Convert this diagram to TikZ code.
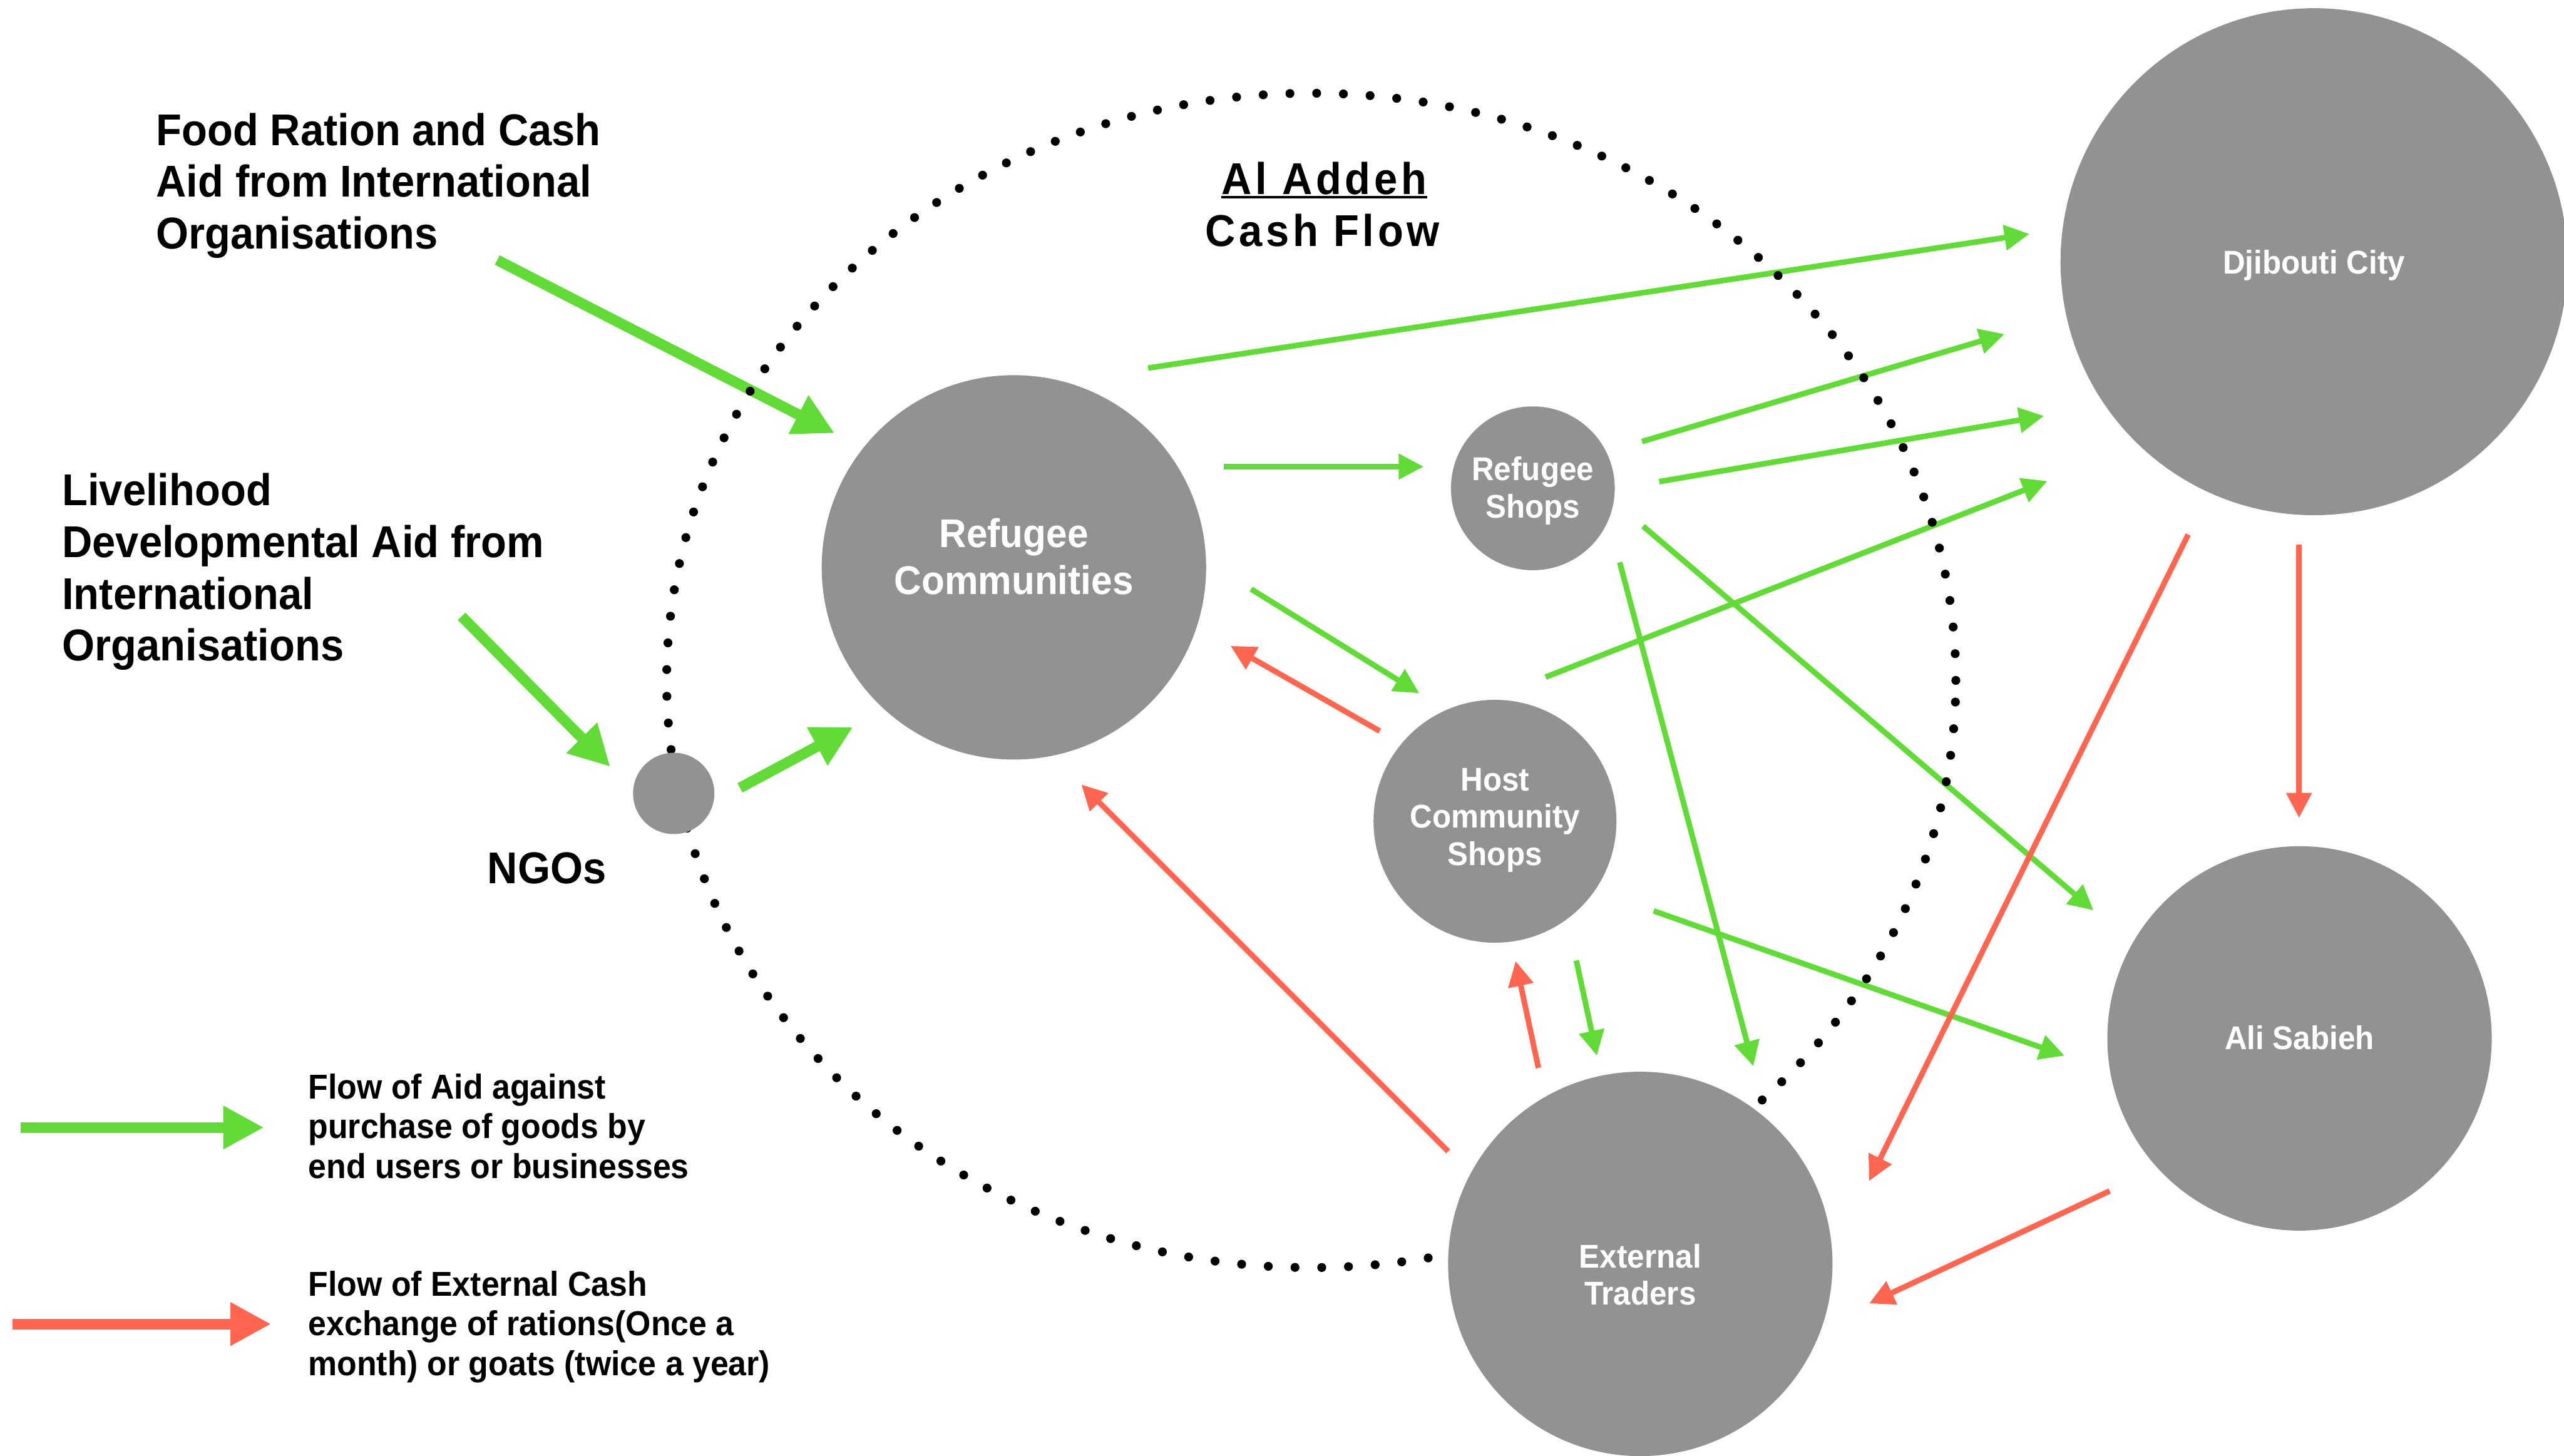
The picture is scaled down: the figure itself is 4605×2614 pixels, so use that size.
\documentclass[tikz,border=0pt]{standalone}
\usepackage{fontspec}
\setmainfont{Liberation Sans}[FakeStretch=0.94]
\newfontfamily\titlefont{Liberation Sans}[FakeStretch=0.94,LetterSpace=8]
\usetikzlibrary{arrows.meta,calc}
\definecolor{flowgreen}{RGB}{98,218,55}
\definecolor{flowred}{RGB}{255,102,82}
\definecolor{placegrey}{RGB}{146,146,146}
\pgfdeclarelayer{flows}
\pgfdeclarelayer{ring}
\pgfsetlayers{flows,ring,main}

\begin{document}
\begin{tikzpicture}[x=0.01cm,y=-0.01cm,
  place/.style={circle,fill=placegrey,inner sep=0pt,text=white,align=center,text depth=0pt},
  bigtxt/.style={font=\bfseries\fontsize{20.49pt}{24.19pt}\selectfont},
  smalltxt/.style={font=\bfseries\fontsize{16.79pt}{19.06pt}\selectfont},
  head/.style={font=\bfseries\fontsize{22.76pt}{26.46pt}\selectfont,align=left,inner sep=0pt},
  titletxt/.style={font=\titlefont\bfseries\fontsize{22.76pt}{26.46pt}\selectfont,inner sep=0pt},
  legendtxt/.style={font=\bfseries\fontsize{17.64pt}{20.2pt}\selectfont,align=left,inner sep=0pt},
  aid/.style={draw=flowgreen,line width=0.1cm,-{Triangle[length=0.45cm,width=0.44cm]}},
  cash/.style={draw=flowred,line width=0.1cm,-{Triangle[length=0.45cm,width=0.44cm]}},
  aidbig/.style={draw=flowgreen,line width=0.19cm,-{Triangle[length=0.73cm,width=0.73cm]}},
  cashbig/.style={draw=flowred,line width=0.19cm,-{Triangle[length=0.73cm,width=0.73cm]}},
  ringdots/.style={line width=0.16cm,line cap=round,dash pattern=on 0pt off 0.48cm},
]
\useasboundingbox (0,0) rectangle (4605,2614);

% places (text height sets where the last baseline sits below the centre)
\node[place,bigtxt,minimum size=6.9cm,text height=0.98cm] (rc) at (1821,1019) {Refugee\\Communities};
\node[place,minimum size=1.46cm] (ngo) at (1210,1425) {};
\node[place,smalltxt,minimum size=2.94cm,text height=1.06cm] (rs) at (2753,877) {Refugee\\Shops};
\node[place,smalltxt,minimum size=4.36cm,text height=1.58cm] (hcs) at (2685,1475) {Host\\Community\\Shops};
\node[place,smalltxt,minimum size=9.1cm,text height=0.44cm] (dj) at (4156,470) {Djibouti City};
\node[place,smalltxt,minimum size=6.9cm,text height=0.40cm] (as) at (4130,1865) {Ali Sabieh};
\node[place,smalltxt,minimum size=6.9cm,text height=1.48cm] (et) at (2946,2270) {External\\Traders};

% headings (anchored on the baseline of their last line)
\node[head,anchor=base west] (food) at (280,447) {Food Ration and Cash\\Aid from International\\Organisations};
\node[head,anchor=base west] (live) at (111,1187) {Livelihood\\Developmental Aid from\\International\\Organisations};
\node[head,anchor=base west] (ngolabel) at (875,1587) {NGOs};
\node[titletxt,anchor=base] (title1) at (2378,349) {Al Addeh};
\node[titletxt,anchor=base] (title2) at (2375,442) {Cash Flow};
\draw[line width=0.05cm] ($(title1.base west)+(0,5)$) -- ($(title1.base east)+(0,5)$);

% legend
\node[legendtxt,anchor=base west] (legaid) at (553,2116) {Flow of Aid against\\purchase of goods by\\end users or businesses};
\node[legendtxt,anchor=base west] (legcash) at (553,2470) {Flow of External Cash\\exchange of rations(Once a\\month) or goats (twice a year)};
\coordinate (legaidA) at (37,2025);
\coordinate (legaidB) at (474,2025);
\coordinate (legcashA) at (23,2378);
\coordinate (legcashB) at (487,2378);

\coordinate (foodtail) at (893,467);
\coordinate (livetail) at (829,1107);

% the camp boundary
\begin{pgfonlayer}{ring}
\draw[ringdots] (2355,1222) ellipse [x radius=11.57cm, y radius=10.54cm];
\end{pgfonlayer}

\begin{pgfonlayer}{flows}
% aid into the camp
\draw[aidbig] (foodtail) -- ($(rc)+(-322,-241)$);
\draw[aidbig] (livetail) -- ($(ngo)+(-114,-48)$);
\draw[aidbig] ($(ngo)+(119,-10)$) -- ($(rc)+(-289,287)$);
% purchases (green)
\draw[aid] ($(rc)+(241,-358)$) -- ($(dj)+(-511,-50)$);
\draw[aid] ($(rc)+(377,-181)$) -- ($(rs)+(-196,-39)$);
\draw[aid] ($(rc)+(426,39)$) -- ($(hcs)+(-136,-230)$);
\draw[aid] ($(rs)+(196,-84)$) -- ($(dj)+(-556,130)$);
\draw[aid] ($(rs)+(227,-12)$) -- ($(dj)+(-485,277)$);
\draw[aid] ($(hcs)+(91,-259)$) -- ($(dj)+(-479,394)$);
\draw[aid] ($(rs)+(198,68)$) -- ($(as)+(-370,-230)$);
\draw[aid] ($(rs)+(156,133)$) -- ($(et)+(203,-355)$);
\draw[aid] ($(hcs)+(285,161)$) -- ($(as)+(-422,31)$);
\draw[aid] ($(hcs)+(146,250)$) -- ($(et)+(-78,-374)$);
% external cash (red)
\draw[cash] ($(hcs)+(-207,-162)$) -- ($(rc)+(389,141)$);
\draw[cash] ($(et)+(-345,-202)$) -- ($(rc)+(121,390)$);
\draw[cash] ($(et)+(-183,-352)$) -- ($(hcs)+(37,251)$);
\draw[cash] ($(dj)+(-226,490)$) -- ($(et)+(411,-149)$);
\draw[cash] ($(dj)+(-27,508)$) -- ($(as)+(-1,-396)$);
\draw[cash] ($(as)+(-341,274)$) -- ($(et)+(411,71)$);
% legend arrows
\draw[aidbig] (legaidA) -- (legaidB);
\draw[cashbig] (legcashA) -- (legcashB);
\end{pgfonlayer}
\end{tikzpicture}
\end{document}
